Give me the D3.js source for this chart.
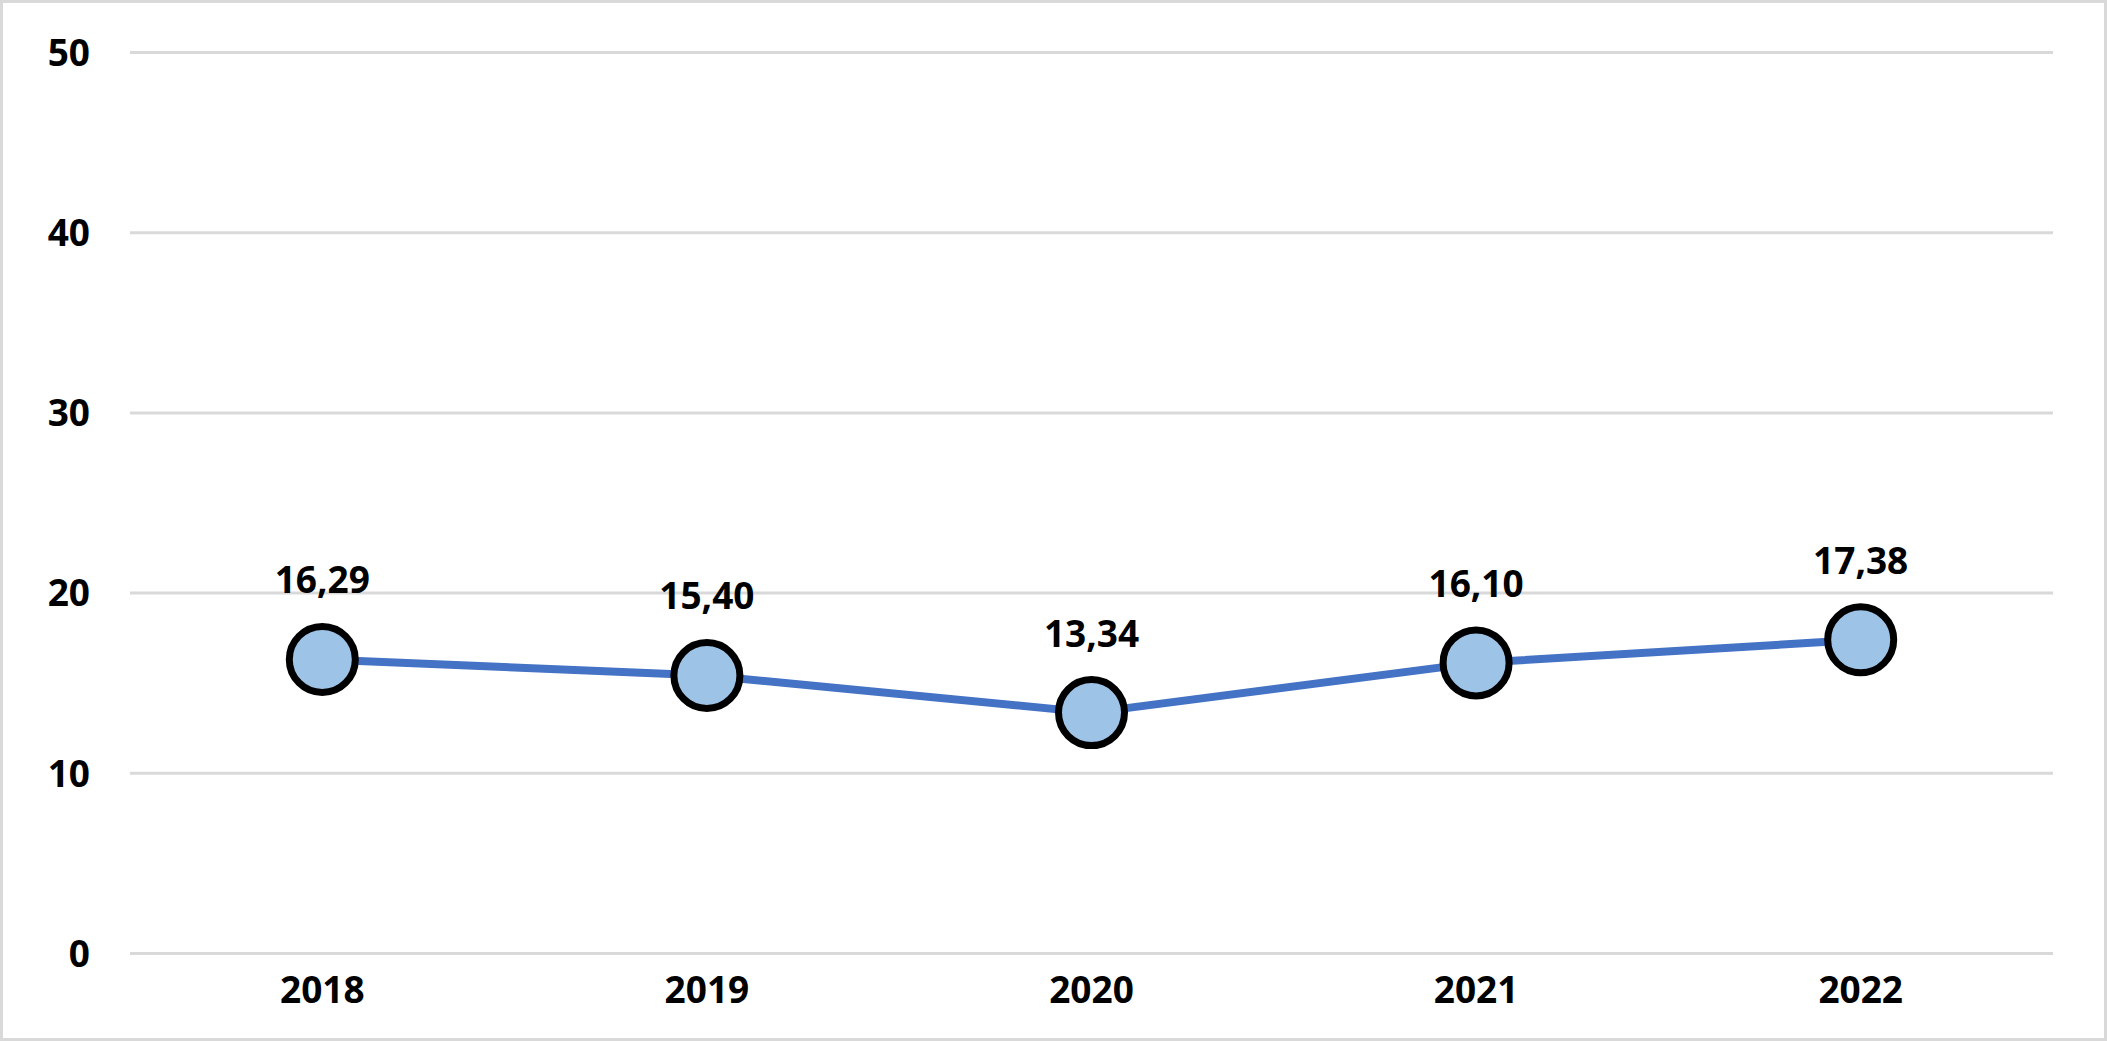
<!DOCTYPE html>
<html>
<head>
<meta charset="utf-8">
<script src="https://cdn.jsdelivr.net/npm/d3@7"></script>
<style>
  html, body { margin: 0; padding: 0; background: #fff; }
  svg { display: block; }
  text { font-family: "Open Sans", "Noto Sans", sans-serif; font-weight: bold; fill: #000; }
</style>
</head>
<body>
<svg width="2107" height="1041"></svg>
<script>
// chart data
const years = ["2018", "2019", "2020", "2021", "2022"];
const values = [16.29, 15.40, 13.34, 16.10, 17.38];
const yTicks = [0, 10, 20, 30, 40, 50];

let svg = d3.select("svg");
let width = +svg.attr("width");
let height = +svg.attr("height");

const margin = { top: 52, right: 54, bottom: 88, left: 130 };

// outer frame
svg.append("rect")
  .attr("x", 1.5)
  .attr("y", 1.5)
  .attr("width", width - 3)
  .attr("height", height - 3)
  .attr("fill", "#fff")
  .attr("stroke", "#d9d9d9")
  .attr("stroke-width", 3);

let x = d3.scaleBand()
  .domain(years)
  .range([margin.left, width - margin.right]);

let y = d3.scaleLinear()
  .domain([0, 50])
  .range([height - margin.bottom, margin.top]);

// gridlines + y labels
let yAxis = d3.axisLeft(y)
  .tickValues(yTicks)
  .tickSize(-(width - margin.left - margin.right))
  .tickPadding(40)
  .tickFormat(d3.format("d"));

let gy = svg.append("g")
  .attr("transform", `translate(${margin.left},0)`)
  .call(yAxis);
gy.select(".domain").remove();
gy.selectAll(".tick line").attr("stroke", "#d9d9d9").attr("stroke-width", 3);
gy.selectAll(".tick text")
  .attr("font-size", 37)
  .attr("dy", "0.36em");

// x labels
let xAxis = d3.axisBottom(x).tickSize(0).tickPadding(24);
let gx = svg.append("g")
  .attr("transform", `translate(0,${height - margin.bottom})`)
  .call(xAxis);
gx.select(".domain").remove();
gx.selectAll(".tick text").attr("font-size", 37);

const cx = (d, i) => x(years[i]) + x.bandwidth() / 2;

// the line
let line = d3.line()
  .x((d, i) => cx(d, i))
  .y((d) => y(d));

svg.append("path")
  .datum(values)
  .attr("d", line)
  .attr("fill", "none")
  .attr("stroke", "#4472c4")
  .attr("stroke-width", 8)
  .attr("stroke-linejoin", "round");

// markers
svg.append("g")
  .selectAll("circle")
  .data(values)
  .enter()
  .append("circle")
  .attr("cx", cx)
  .attr("cy", (d) => y(d))
  .attr("r", 33)
  .attr("fill", "#9dc3e6")
  .attr("stroke", "#000")
  .attr("stroke-width", 7);

// value labels
const fmt = (v) => v.toFixed(2).replace(".", ",");
svg.append("g")
  .selectAll("text")
  .data(values)
  .enter()
  .append("text")
  .attr("x", cx)
  .attr("y", (d) => y(d) - 66)
  .attr("text-anchor", "middle")
  .attr("font-size", 37)
  .text(fmt);
</script>
</body>
</html>
